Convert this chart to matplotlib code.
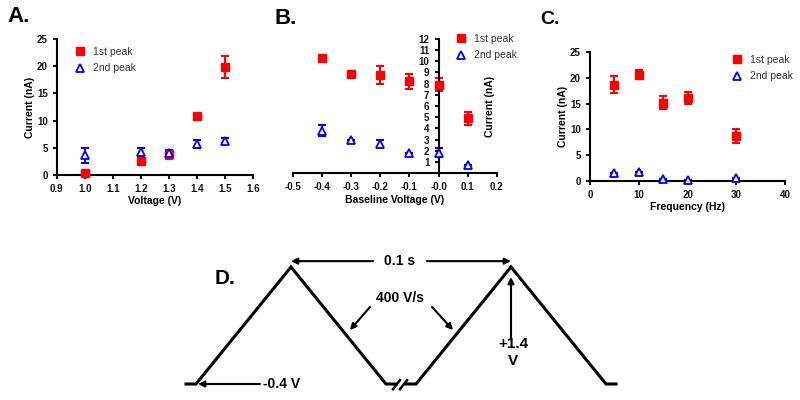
import matplotlib
matplotlib.use("Agg")
import matplotlib.pyplot as plt

plt.rcParams['font.family'] = ['Liberation Sans', 'DejaVu Sans']
plt.rcParams['font.weight'] = 'bold'
plt.rcParams['axes.labelweight'] = 'bold'

# panel A: stimulation voltage
volt = [1.0, 1.2, 1.3, 1.4, 1.5]
a_peak1 = [0.4, 2.6, 3.8, 10.8, 19.8]
a_peak1_err = [0.0, 0.4, 0.8, 0.0, 2.0]
a_peak2 = [3.6, 4.2, 4.1, 5.7, 6.3]
a_peak2_err = [1.4, 0.8, 0.5, 0.7, 0.5]

# panel B: baseline voltage
base = [-0.4, -0.3, -0.2, -0.1, 0.0, 0.1]
b_peak1 = [10.3, 8.9, 8.8, 8.2, 7.9, 4.9]
b_peak1_err = [0.3, 0.2, 0.8, 0.7, 0.6, 0.6]
b_peak2 = [3.8, 3.0, 2.6, 1.8, 1.8, 0.7]
b_peak2_err = [0.5, 0.0, 0.4, 0.0, 0.4, 0.0]

# panel C: frequency
freq = [5, 10, 15, 20, 30]
c_peak1 = [18.7, 20.6, 15.2, 16.1, 8.7]
c_peak1_err = [1.6, 0.9, 1.2, 1.1, 1.3]
c_peak2 = [1.5, 1.8, 0.4, 0.1, 0.6]
c_peak2_err = [0.0, 0.0, 0.0, 0.0, 0.0]

# panel D: schematic waveform (x schematic units, y in volts)
wave1_t = [186, 196, 291, 386, 396]
wave2_t = [406, 416, 511, 606, 616]
wave_v = [-0.4, -0.4, 1.4, -0.4, -0.4]

RED = '#ff0000'
BLUE = '#0000ff'

fig = plt.figure(figsize=(8, 4), dpi=100)


def panel(ax, x, p1, e1, p2, e2):
    ax.errorbar(x, p1, yerr=e1, fmt='none', ecolor=RED, elinewidth=1.5,
                capsize=3, capthick=1.5, clip_on=False)
    ax.errorbar(x, p2, yerr=e2, fmt='none', ecolor=BLUE, elinewidth=1.5,
                capsize=3, capthick=1.5, clip_on=False)
    ax.plot(x, p1, 's', color=RED, ms=5.5, label='1st peak', clip_on=False, zorder=3)
    ax.plot(x, p2, '^', mfc='white', mec=BLUE, mew=1.3, ms=6,
            label='2nd peak', clip_on=False, zorder=3)
    for s in ['top', 'right']:
        ax.spines[s].set_visible(False)
    for s in ['left', 'bottom']:
        ax.spines[s].set_linewidth(1.5)
    ax.tick_params(labelsize=7, width=1.5, length=3, colors='#111111')
    ax.xaxis.label.set_size(7.5)
    ax.yaxis.label.set_size(7.5)


def legend(ax, x, y):
    ax.legend(loc='upper left', bbox_to_anchor=(x, y), bbox_transform=fig.transFigure,
              frameon=False, handlelength=1, handletextpad=0.7, borderpad=0,
              borderaxespad=0, labelspacing=0.6,
              prop={'weight': 'normal', 'size': 7.5}, labelcolor='#333333')


# A
ax_a = fig.add_axes([0.071, 0.5625, 0.245, 0.34])
panel(ax_a, volt, a_peak1, a_peak1_err, a_peak2, a_peak2_err)
ax_a.set_xlim(0.9, 1.6)
ax_a.set_ylim(0, 25)
ax_a.set_xticks([0.9, 1.0, 1.1, 1.2, 1.3, 1.4, 1.5, 1.6])
ax_a.set_xticklabels(['0.9', '1.0', '1.1', '1.2', '1.3', '1.4', '1.5', '1.6'])
ax_a.set_yticks([0, 5, 10, 15, 20, 25])
ax_a.set_xlabel('Voltage (V)', labelpad=1.5)
ax_a.set_ylabel('Current (nA)', labelpad=1.5)
legend(ax_a, 0.094, 0.8825)

# B
ax_b = fig.add_axes([0.366, 0.5675, 0.255, 0.335])
panel(ax_b, base, b_peak1, b_peak1_err, b_peak2, b_peak2_err)
ax_b.set_xlim(-0.5, 0.2)
ax_b.set_ylim(0, 12)
ax_b.spines['left'].set_position(('data', 0))
ax_b.set_xticks([-0.5, -0.4, -0.3, -0.2, -0.1, 0.0, 0.1, 0.2])
ax_b.set_xticklabels(['-0.5', '-0.4', '-0.3', '-0.2', '-0.1', '-0.0', '0.1', '0.2'])
ax_b.set_yticks(range(1, 13))
ax_b.set_xlabel('Baseline Voltage (V)', labelpad=2)
ax_b.set_ylabel('Current (nA)')
ax_b.yaxis.set_label_coords(0.99, 0.5)
legend(ax_b, 0.57, 0.915)

# C
ax_c = fig.add_axes([0.7375, 0.5475, 0.244, 0.3225])
panel(ax_c, freq, c_peak1, c_peak1_err, c_peak2, c_peak2_err)
ax_c.set_xlim(0, 40)
ax_c.set_ylim(0, 25)
ax_c.set_xticks([0, 10, 20, 30, 40])
ax_c.set_yticks([0, 5, 10, 15, 20, 25])
ax_c.set_xlabel('Frequency (Hz)', labelpad=1.5)
ax_c.set_ylabel('Current (nA)', labelpad=1.5)
legend(ax_c, 0.915, 0.8625)

fig.text(7 / 800, 0.959, 'A.', fontsize=16, va='center', ha='left')
fig.text(275 / 800, 0.955, 'B.', fontsize=16, va='center', ha='left')
fig.text(540 / 800, 0.95, 'C.', fontsize=14, va='center', ha='left')

# D
ax_d = fig.add_axes([0, 0, 1, 0.45])
ax_d.set_xlim(0, 800)
ax_d.set_ylim(-0.646, 2.123)
ax_d.axis('off')
ax_d.plot(wave1_t, wave_v, color='black', lw=2.2, solid_joinstyle='miter')
ax_d.plot(wave2_t, wave_v, color='black', lw=2.2, solid_joinstyle='miter')
# break marks
ax_d.plot([393, 400], [-0.48, -0.34], color='black', lw=1.8)
ax_d.plot([400, 407], [-0.48, -0.34], color='black', lw=1.8)

arw = dict(arrowstyle='-|>', color='black', lw=1.5, mutation_scale=9, shrinkA=0, shrinkB=0)
ax_d.annotate('', xy=(291, 1.49), xytext=(373, 1.49), arrowprops=arw)
ax_d.annotate('', xy=(511, 1.49), xytext=(427, 1.49), arrowprops=arw)
ax_d.text(400, 1.49, '0.1 s', fontsize=10, ha='center', va='center')
ax_d.text(400, 0.92, '400 V/s', fontsize=10, ha='center', va='center')
ax_d.annotate('', xy=(350, 0.43), xytext=(370, 0.785), arrowprops=arw)
ax_d.annotate('', xy=(453, 0.43), xytext=(432, 0.785), arrowprops=arw)
ax_d.annotate('', xy=(511, 1.246), xytext=(511, 0.3), arrowprops=arw)
ax_d.text(513, 0.08, '+1.4\nV', fontsize=11, ha='center', va='center', linespacing=1.3)
ax_d.annotate('', xy=(198, -0.4), xytext=(260, -0.4), arrowprops=arw)
ax_d.text(263, -0.4, '-0.4 V', fontsize=10, ha='left', va='center')
ax_d.text(215, 1.22, 'D.', fontsize=15, ha='left', va='center')

fig.savefig('out.png', dpi=100)
